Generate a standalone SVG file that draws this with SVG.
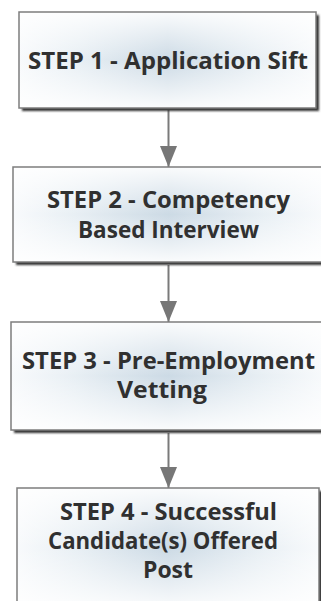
<svg xmlns="http://www.w3.org/2000/svg" width="321" height="601" viewBox="0 0 321 601">
<defs>
<style>
.box{fill:url(#hg);stroke:none}
.ov{fill:url(#vg);stroke:none}
.bd{fill:none;stroke:#7d7d7d;stroke-width:1.5}
.sh{fill:#333333;filter:url(#blur)}
.t{font-family:"Open Sans","DejaVu Sans",sans-serif;font-weight:bold;font-size:23px;fill:#303030;text-anchor:middle}
.c{stroke:#7a7a7a;stroke-width:2;fill:none;marker-end:url(#ah)}
</style>
<linearGradient id="hg" x1="0" y1="0" x2="1" y2="0">
<stop offset="0" stop-color="#f8fafc"/>
<stop offset="0.2" stop-color="#e8eff4"/>
<stop offset="0.5" stop-color="#ccdae5"/>
<stop offset="0.8" stop-color="#e8eff4"/>
<stop offset="1" stop-color="#f8fafc"/>
</linearGradient>
<linearGradient id="vg" x1="0" y1="0" x2="0" y2="1">
<stop offset="0" stop-color="#ffffff" stop-opacity="0.9"/>
<stop offset="0.25" stop-color="#ffffff" stop-opacity="0.45"/>
<stop offset="0.5" stop-color="#ffffff" stop-opacity="0"/>
<stop offset="0.75" stop-color="#ffffff" stop-opacity="0.45"/>
<stop offset="1" stop-color="#ffffff" stop-opacity="0.9"/>
</linearGradient>
<filter id="blur" x="-5%" y="-5%" width="110%" height="110%"><feGaussianBlur stdDeviation="1"/></filter>
<marker id="ah" viewBox="0 0 21 17" refX="21" refY="8.5" markerWidth="21" markerHeight="17" markerUnits="userSpaceOnUse" orient="auto">
<path d="M0,0 L21,8.5 L0,17 z" fill="#777777"/>
</marker>
</defs>
<rect width="321" height="601" fill="#ffffff"/>
<g id="connectors">
<line class="c" x1="168.5" y1="110" x2="168.5" y2="167"/>
<line class="c" x1="168.5" y1="265" x2="168.5" y2="322"/>
<line class="c" x1="168.5" y1="433" x2="168.5" y2="488"/>
</g>
<g id="node1">
<rect class="sh" x="22" y="15" width="297" height="96"/>
<rect class="box" x="19" y="12" width="297" height="96"/>
<rect class="ov" x="19" y="12" width="297" height="96"/>
<rect class="bd" x="19" y="12" width="297" height="96"/>
<text class="t" x="168" y="69" textLength="280" lengthAdjust="spacingAndGlyphs">STEP 1 - Application Sift</text>
</g>
<g id="node2">
<rect class="sh" x="16" y="170" width="311" height="95"/>
<rect class="box" x="13" y="167" width="311" height="95"/>
<rect class="ov" x="13" y="167" width="311" height="95"/>
<rect class="bd" x="13" y="167" width="311" height="95"/>
<text class="t" x="168.5" y="208" textLength="243" lengthAdjust="spacingAndGlyphs">STEP 2 - Competency</text>
<text class="t" x="168.5" y="238" textLength="181" lengthAdjust="spacingAndGlyphs">Based Interview</text>
</g>
<g id="node3">
<rect class="sh" x="14" y="325" width="315" height="108"/>
<rect class="box" x="11" y="322" width="315" height="108"/>
<rect class="ov" x="11" y="322" width="315" height="108"/>
<rect class="bd" x="11" y="322" width="315" height="108"/>
<text class="t" x="168.5" y="369" textLength="293" lengthAdjust="spacingAndGlyphs">STEP 3 - Pre-Employment</text>
<text class="t" x="162" y="398" textLength="90" lengthAdjust="spacingAndGlyphs">Vetting</text>
</g>
<g id="node4">
<rect class="sh" x="20" y="491" width="302" height="120"/>
<rect class="box" x="17" y="488" width="302" height="120"/>
<rect class="ov" x="17" y="488" width="302" height="120"/>
<rect class="bd" x="17" y="488" width="302" height="120"/>
<text class="t" x="168.5" y="520" textLength="217" lengthAdjust="spacingAndGlyphs">STEP 4 - Successful</text>
<text class="t" x="163" y="549" textLength="230" lengthAdjust="spacingAndGlyphs">Candidate(s) Offered</text>
<text class="t" x="168" y="578" textLength="50" lengthAdjust="spacingAndGlyphs">Post</text>
</g>
</svg>
